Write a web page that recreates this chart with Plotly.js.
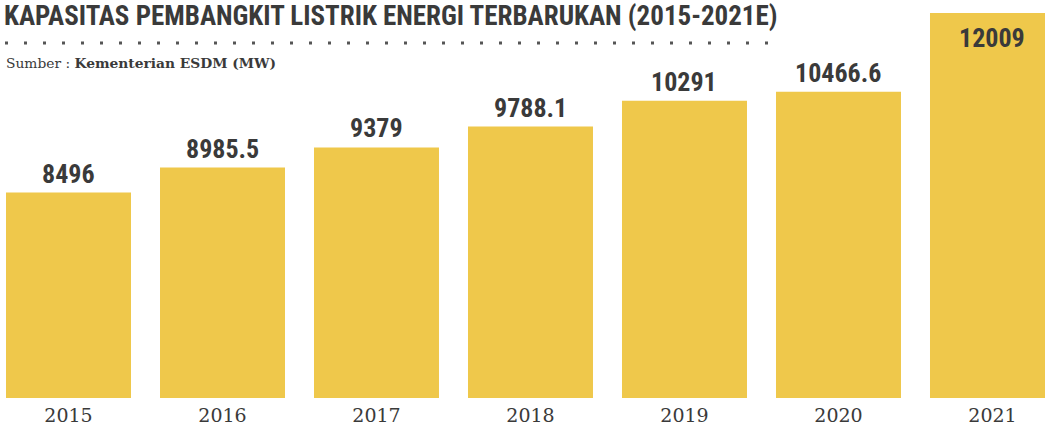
<!DOCTYPE html>
<html>
<head>
<meta charset="utf-8">
<script src="https://cdn.plot.ly/plotly-3.0.1.min.js"></script>
<style>html,body{margin:0;padding:0;background:#fff;}#chart{width:1045px;height:427px;}</style>
</head>
<body>
<div id="chart"></div>
<script>
const years = ['2015', '2016', '2017', '2018', '2019', '2020', '2021'];
const capacityMW = [8496, 8985.5, 9379, 9788.1, 10291, 10466.6, 12009];
const valueLabels = ['8496', '8985.5', '9379', '9788.1', '10291', '10466.6', '12009'];
const labelInside = [false, false, false, false, false, false, true];

const W = 1045, H = 427;
const plotBottom = 398;
const narrow = '"Roboto Condensed", "Liberation Sans Narrow", "Roboto", sans-serif';
const serif = '"DejaVu Serif", "Liberation Serif", serif';
const dark = '#3a3a3a';

const annotations = years.map((yr, i) => ({
  x: i, y: capacityMW[i], xref: 'x', yref: 'y',
  text: valueLabels[i], showarrow: false,
  xanchor: 'center', yanchor: labelInside[i] ? 'top' : 'bottom',
  yshift: labelInside[i] ? -8 : 2,
  font: {family: narrow, size: 26, color: dark, weight: 'bold'}
}));

annotations.push({
  xref: 'paper', yref: 'paper', x: 4 / W, y: (plotBottom - 63) / plotBottom,
  xanchor: 'left', yanchor: 'middle', showarrow: false,
  text: 'Sumber : <b>Kementerian ESDM (MW)</b>',
  font: {family: serif, size: 13.8, color: dark}
});

const data = [{
  type: 'bar', x: years, y: capacityMW,
  marker: {color: '#EFC84B'},
  hoverinfo: 'x+y', cliponaxis: false
}];

const layout = {
  width: W, height: H,
  margin: {l: 0, r: 0, t: 0, b: H - plotBottom, pad: 0},
  paper_bgcolor: '#ffffff', plot_bgcolor: '#ffffff',
  showlegend: false,
  bargap: 29 / 154,
  title: {
    text: 'KAPASITAS PEMBANGKIT LISTRIK ENERGI TERBARUKAN (2015-2021E)',
    x: 4 / W, xanchor: 'left', xref: 'paper',
    y: 1 - 16 / H, yanchor: 'middle', yref: 'container',
    font: {family: narrow, size: 27, color: dark, weight: 'bold'}
  },
  xaxis: {
    type: 'category', range: [-0.4448, 6.341],
    showgrid: false, zeroline: false, showline: false, ticks: '',
    automargin: false, ticklabelstandoff: 4,
    tickfont: {family: serif, size: 19, color: dark}
  },
  yaxis: {
    range: [4479, 12263], visible: false, showgrid: false, zeroline: false, fixedrange: true
  },
  shapes: [{
    type: 'line', xref: 'paper', yref: 'paper',
    x0: 5 / W, x1: 778 / W,
    y0: (plotBottom - 43) / plotBottom, y1: (plotBottom - 43) / plotBottom,
    line: {color: '#555555', width: 3, dash: '3px,16px'}
  }],
  annotations: annotations
};

Plotly.newPlot('chart', data, layout, {displayModeBar: false, staticPlot: true});
</script>
</body>
</html>
